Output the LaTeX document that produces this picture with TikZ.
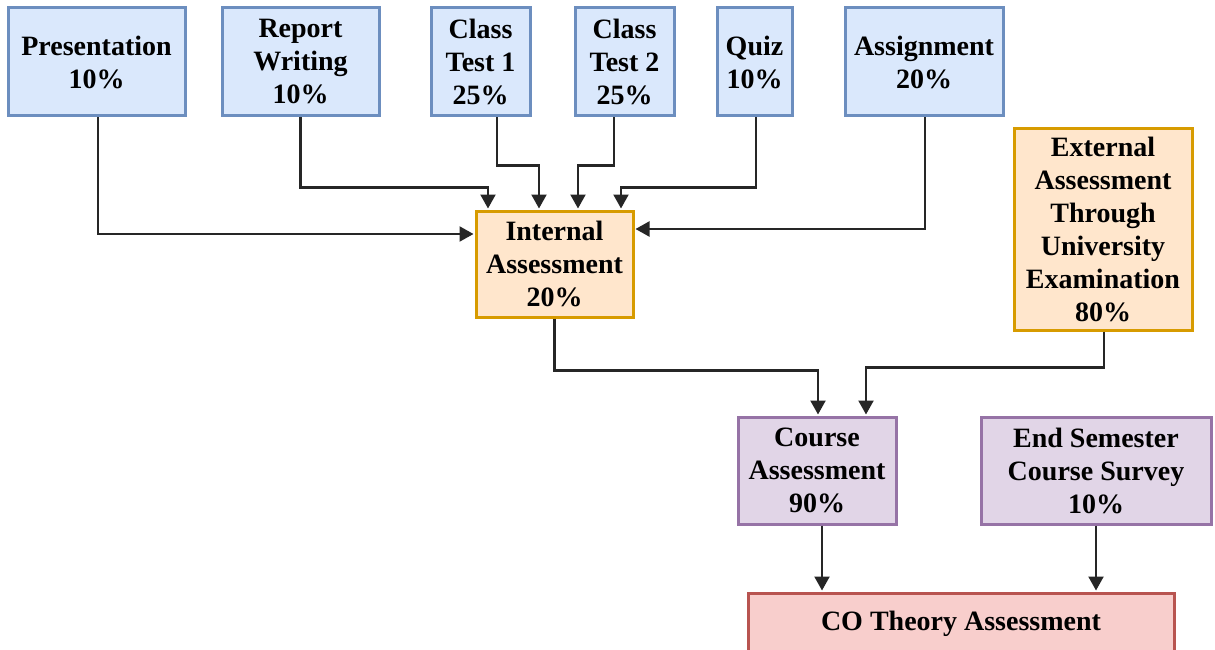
\documentclass[tikz,border=0pt]{standalone}
\usepackage{fontspec}
\setmainfont{Liberation Serif}
\usetikzlibrary{arrows.meta}

\definecolor{bluefill}{HTML}{DAE8FC}
\definecolor{blueline}{HTML}{6C8EBF}
\definecolor{orangefill}{HTML}{FFE6CC}
\definecolor{orangeline}{HTML}{D79B00}
\definecolor{purplefill}{HTML}{E1D5E7}
\definecolor{purpleline}{HTML}{9673A6}
\definecolor{redfill}{HTML}{F8CECC}
\definecolor{redline}{HTML}{B85450}

\tikzset{
  box/.style={rectangle, line width=3pt, align=center, inner sep=0pt,
    font=\bfseries\fontsize{28}{33}\selectfont},
  bluebox/.style={box, draw=blueline, fill=bluefill},
  orangebox/.style={box, draw=orangeline, fill=orangefill},
  purplebox/.style={box, draw=purpleline, fill=purplefill},
  redbox/.style={box, draw=redline, fill=redfill},
  arr/.style={draw=black!85, line width=2.2pt,
    -{Triangle[length=14pt,width=15pt]}, shorten >=1pt},
}

\begin{document}
\begin{tikzpicture}[x=1pt, y=-1pt]
\useasboundingbox (0,0) rectangle (1215,650);

% contributing components
\node[bluebox, minimum width=177pt, minimum height=108pt] (pres) at (96.5,62) {Presentation\\10\%};
\node[bluebox, minimum width=157pt, minimum height=108pt] (rep) at (300.5,62) {Report\\Writing\\10\%};
\node[bluebox, minimum width=99pt, minimum height=108pt] (ct1) at (480.5,62) {Class\\Test 1\\25\%};
\node[bluebox, minimum width=99pt, minimum height=108pt] (ct2) at (624.5,62) {Class\\Test 2\\25\%};
\node[bluebox, minimum width=75pt, minimum height=108pt] (quiz) at (754.5,62) {Quiz\\10\%};
\node[bluebox, minimum width=158pt, minimum height=108pt] (asg) at (924,62) {Assignment\\20\%};

% internal and external assessment
\node[orangebox, minimum width=157pt, minimum height=106pt] (int) at (554.5,264) {Internal\\Assessment\\20\%};
\node[orangebox, minimum width=178pt, minimum height=201pt] (ext) at (1103,229.5) {External\\Assessment\\Through\\University\\Examination\\80\%};

% course level
\node[purplebox, minimum width=158pt, minimum height=107pt] (course) at (817,470.5) {Course\\Assessment\\90\%};
\node[purplebox, minimum width=230pt, minimum height=107pt] (ess) at (1096,470.5) {End Semester\\Course Survey\\10\%};

% final result
\node[redbox, minimum width=426pt, minimum height=62pt] (co) at (961,624) {CO Theory Assessment};

% connectors into internal assessment
\draw[arr] ([xshift=1.5pt]pres.south) |- ([yshift=30pt]int.west);
\draw[arr] (rep.south) -- ++(0,70) -| ([xshift=-66.5pt]int.north);
\draw[arr] ([xshift=16.5pt]ct1.south) -- ++(0,48) -| ([xshift=-15.5pt]int.north);
\draw[arr] ([xshift=-10.5pt]ct2.south) -- ++(0,48) -| ([xshift=23.5pt]int.north);
\draw[arr] ([xshift=1.5pt]quiz.south) -- ++(0,70) -| ([xshift=66.5pt]int.north);
\draw[arr] ([xshift=1pt]asg.south) |- ([yshift=35pt]int.east);

% connectors into course assessment
\draw[arr] (int.south) -- ++(0,52) -| ([xshift=1pt]course.north);
\draw[arr] ([xshift=1pt]ext.south) -- ++(0,36) -| ([xshift=49pt]course.north);

% connectors into the final result
\draw[arr] ([xshift=5pt]course.south) -- ([xshift=5pt]course.south |- co.north);
\draw[arr] (ess.south) -- (ess.south |- co.north);
\end{tikzpicture}
\end{document}
